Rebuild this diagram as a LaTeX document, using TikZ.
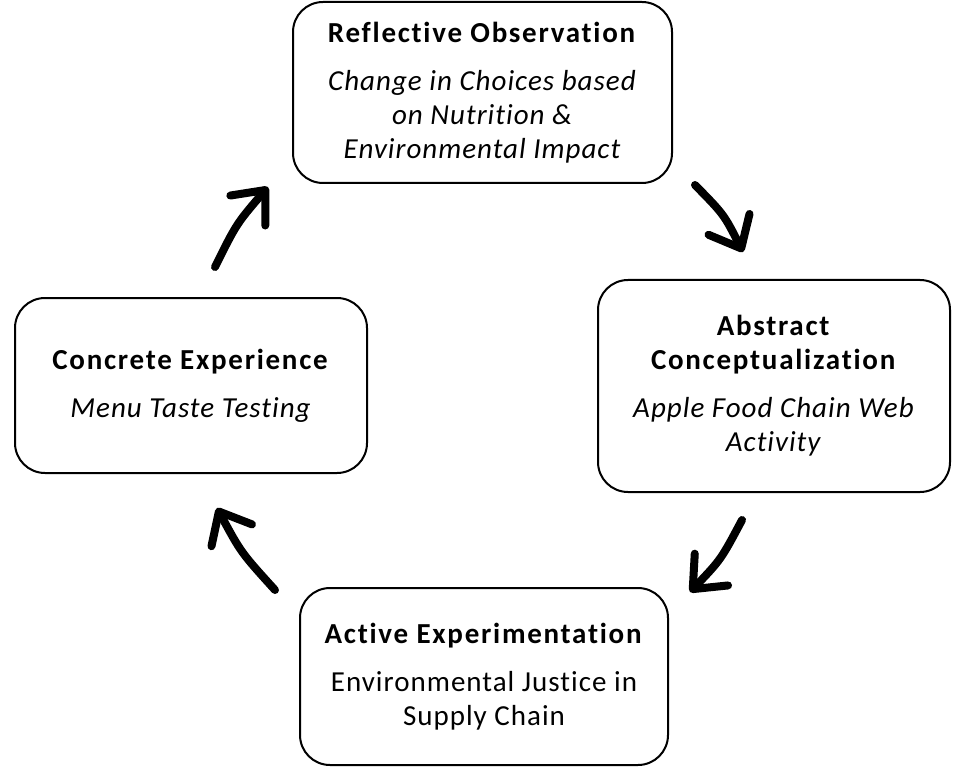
\documentclass[tikz,border=0pt]{standalone}
\usepackage{fontspec}
\setmainfont{Carlito}[RawFeature={-liga,-clig,-dlig}, LetterSpace=3.5, BoldFeatures={LetterSpace=6}]
\usetikzlibrary{arrows.meta}
\begin{document}
\begin{tikzpicture}[x=1pt,y=-1pt,
  box/.style={draw, line width=2pt, rounded corners=30pt, align=center,
    font=\fontsize{29}{34}\selectfont, inner sep=0pt},
  cyc/.style={line width=8pt, line cap=round,
    -{Straight Barb[length=27pt,width=46pt,line cap=round,line join=round]}}]
\useasboundingbox[fill=white] (0,0) rectangle (957,783);
\node[box, minimum width=379pt, minimum height=181pt] (ro) at (482.5,92.5)
  {\textbf{Reflective Observation}\\[14pt]\textit{Change in Choices based}\\\textit{on Nutrition \&}\\\textit{Environmental Impact}};
\node[box, minimum width=352pt, minimum height=212pt] (ac) at (774,386)
  {\textbf{Abstract}\\\textbf{Conceptualization}\\[14pt]\textit{Apple Food Chain Web}\\\textit{Activity}};
\node[box, minimum width=352pt, minimum height=175pt] (ce) at (191,385.5)
  {\textbf{Concrete Experience}\\[14pt]\textit{Menu Taste Testing}};
\node[box, minimum width=368pt, minimum height=177pt] (ae) at (484,676.5)
  {\textbf{Active Experimentation}\\[14pt]Environmental Justice in\\Supply Chain};
\coordinate (a1s) at (215,267); \coordinate (a1e) at (268,187);
\coordinate (a2s) at (695,185); \coordinate (a2e) at (743,252);
\coordinate (a3s) at (742,520); \coordinate (a3e) at (690,592);
\coordinate (a4s) at (275,590); \coordinate (a4e) at (217,508);
\draw[cyc] (a1s) .. controls (236.5,223.7) .. (a1e);
\draw[cyc] (a2s) .. controls (724,214.5) .. (a2e);
\draw[cyc] (a3s) .. controls (721,559.5) .. (a3e);
\draw[cyc] (a4s) .. controls (241,552.5) .. (a4e);
\end{tikzpicture}
\end{document}
